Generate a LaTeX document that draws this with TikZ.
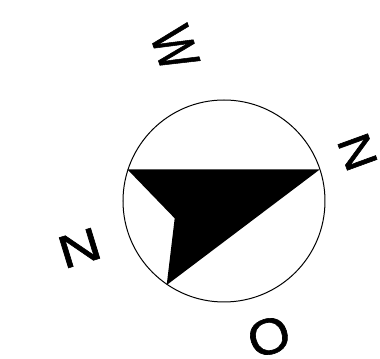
\documentclass[tikz,border=0pt]{standalone}
\usepackage{fontspec}
\setmainfont[FakeBold=1.2]{Liberation Sans}
\tikzset{
  dirlabel/.style={font=\fontsize{36}{40}\selectfont,inner sep=0pt,anchor=center},
  needle/.style={fill=black,draw=none},
}
\begin{document}
\begin{tikzpicture}[x=0.75pt,y=-0.75pt]
  \useasboundingbox (0,0) rectangle (380,359);

  % Dial
  \draw[black,line width=0.75pt] (224,201) circle (101);

  % Needle
  \fill[needle] (127.3,169.3) -- (320,169.3) -- (166.7,285) -- (174.7,218.3) -- cycle;

  % Direction letters
  \node[dirlabel,rotate=-71,xscale=0.9,yscale=1.2] (west) at (175,48) {W};
  \node[dirlabel,rotate=-70,xscale=1.02,yscale=0.96] (north) at (357.5,152) {N};
  \node[dirlabel,rotate=17,xscale=1.22,yscale=0.96] (south) at (79.5,248) {N};
  \node[dirlabel,rotate=18,xscale=1.12,yscale=1.05] (east) at (269,336.5) {O};
\end{tikzpicture}
\end{document}
